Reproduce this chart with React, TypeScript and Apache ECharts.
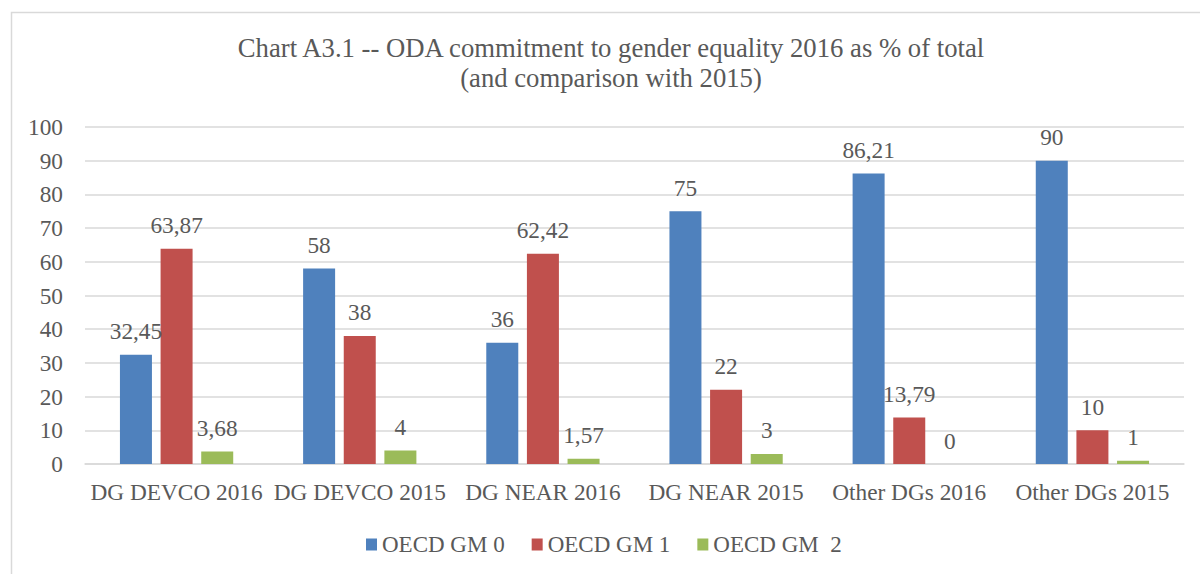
import React, { useEffect, useRef } from "react";
import * as echarts from "echarts";

const titleLines = [
  "Chart A3.1 -- ODA commitment to gender equality 2016 as % of total",
  "(and comparison with 2015)",
];
const categories = [
  "DG DEVCO 2016",
  "DG DEVCO 2015",
  "DG NEAR 2016",
  "DG NEAR 2015",
  "Other DGs 2016",
  "Other DGs 2015",
];
const seriesNames = ["OECD GM 0", "OECD GM 1", "OECD GM  2"];
const gm0 = [32.45, 58, 36, 75, 86.21, 90];
const gm1 = [63.87, 38, 62.42, 22, 13.79, 10];
const gm2 = [3.68, 4, 1.57, 3, 0, 1];
const colors = ["#4F81BD", "#C0504D", "#9BBB59"];

const FONT = "Liberation Serif, serif";
const TXT = "#595959";

export default function App() {
  const ref = useRef<HTMLDivElement>(null);
  useEffect(() => {
    if (!ref.current) return;
    const chart = echarts.init(ref.current, undefined, { renderer: "svg" });
    const values = [gm0, gm1, gm2];
    chart.setOption({
      animation: false,
      backgroundColor: "#ffffff",
      textStyle: { fontFamily: FONT },
      title: {
        text: titleLines.join("\n"),
        left: 611,
        top: 33,
        padding: 0,
        textAlign: "center",
        textStyle: {
          fontFamily: FONT,
          fontSize: 26.7,
          fontWeight: "normal",
          color: TXT,
          lineHeight: 30,
        },
      },
      graphic: [
        {
          type: "rect",
          z: -10,
          shape: { x: 11.5, y: 12.5, width: 1400, height: 800 },
          style: { fill: "none", stroke: "#D9D9D9", lineWidth: 1.5 },
        },
      ],
      legend: {
        left: 366,
        top: 533,
        itemWidth: 11,
        itemHeight: 12,
        itemGap: 27,
        icon: "rect",
        padding: 0,
        textStyle: { fontFamily: FONT, fontSize: 23, color: TXT },
        data: seriesNames,
      },
      grid: { left: 85, right: 16, top: 127, bottom: 110, containLabel: false },
      xAxis: {
        type: "category",
        data: categories,
        axisLine: { show: true, lineStyle: { color: "#D9D9D9", width: 1.5 } },
        axisTick: { show: false },
        axisLabel: { interval: 0, margin: 16, fontFamily: FONT, fontSize: 23.3, color: TXT },
      },
      yAxis: {
        type: "value",
        min: 0,
        max: 100,
        interval: 10,
        axisLine: { show: false },
        axisTick: { show: false },
        splitLine: { lineStyle: { color: "#D9D9D9", width: 1.5 } },
        axisLabel: { margin: 22, fontFamily: FONT, fontSize: 23.3, color: TXT },
      },
      series: seriesNames.map((name, i) => ({
        name,
        type: "bar",
        data: values[i],
        barWidth: 32,
        barGap: "27%",
        itemStyle: { color: colors[i] },
        label: {
          show: true,
          position: "top",
          distance: 12,
          fontFamily: FONT,
          fontSize: 23.3,
          color: TXT,
          formatter: (p: any) => String(p.value).replace(".", ","),
        },
      })),
    });
    return () => chart.dispose();
  }, []);
  return (
    <div
      ref={ref}
      style={{ position: "fixed", left: 0, top: 0, width: 1200, height: 574, background: "#fff" }}
    />
  );
}
